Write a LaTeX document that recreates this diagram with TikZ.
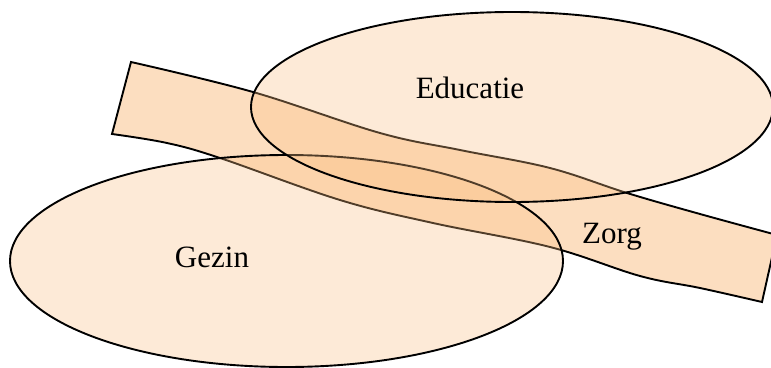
\documentclass[tikz,border=0pt]{standalone}
\usepackage{fontspec}
\setmainfont{Liberation Serif}
\definecolor{peach}{RGB}{250,190,130}
\tikzset{
  bandshape/.style={fill=peach, fill opacity=0.5, draw=black, line width=1.9pt},
  setshape/.style={fill=peach, fill opacity=0.32, draw=black, draw opacity=1, line width=1.9pt},
  setlabel/.style={font=\fontsize{31}{36}\selectfont, inner sep=0pt, anchor=base, text=black}
}
\begin{document}
\begin{tikzpicture}[x=1pt,y=-1pt]
\useasboundingbox (0,0) rectangle (771,367);
\clip (0,0) rectangle (771,367);
% band (Zorg)
\path[bandshape] plot[smooth, tension=0.6] coordinates {(131,62) (253,92) (380,133) (460,150) (550,168) (627,193) (700,214) (777,235)}
  -- plot[smooth, tension=0.6] coordinates {(762,302) (700,288) (640,276) (550,247) (433,223) (340,200) (220,158) (167,143) (112,134)}
  -- cycle;
% Gezin
\draw[setshape] (286.5,261) ellipse [x radius=276.5, y radius=106];
% Educatie
\draw[setshape] (512,107) ellipse [x radius=261, y radius=95];
\node[setlabel] (educatie) at (470,98) {Educatie};
\node[setlabel] (gezin) at (212,267) {Gezin};
\node[setlabel] (zorg) at (612,243) {Zorg};
\end{tikzpicture}
\end{document}
